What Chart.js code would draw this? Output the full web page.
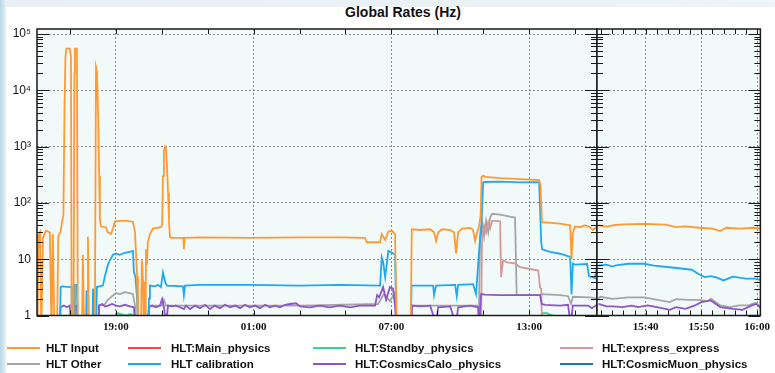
<!DOCTYPE html>
<html>
<head>
<meta charset="utf-8">
<script src="https://cdn.jsdelivr.net/npm/chart.js@4.4.1/dist/chart.umd.min.js"></script>
<style>
  html, body { margin: 0; padding: 0; }
  body {
    width: 775px; height: 373px; overflow: hidden;
    background: linear-gradient(to right, #b9d5e4 0px, #e6f0f6 6px, #eef4f7 100%);
    font-family: "Liberation Sans", Arial, sans-serif;
  }
  #sheet { position: absolute; left: 6px; top: 7px; right: 0; bottom: 0; background: #fff; }
  #title {
    position: absolute; left: 37px; width: 732px; top: 3px; height: 18px; line-height: 18px;
    text-align: center; font-weight: bold; font-size: 14px; color: #111;
  }
  canvas { position: absolute; top: 0; }
  #cLeft { left: 0; }
  #cRight { left: 594px; }
  .lg { position: absolute; height: 16px; line-height: 16px; font-weight: bold; font-size: 11.5px; color: #111; white-space: nowrap; }
  .lg i { position: absolute; left: 0; top: 7px; width: 33px; height: 2px; }
  .lg span { position: absolute; top: 0; }
</style>
</head>
<body>
<div id="sheet"></div>
<div id="title">Global Rates (Hz)</div>
<canvas id="cLeft" width="600" height="373"></canvas>
<canvas id="cRight" width="181" height="373"></canvas>
<div id="legend"></div>

<script>
/* ---------- left panel: hours since 00:00 of the first day ---------- */
const inputT = [15.58, 15.62, 15.69, 15.75, 15.82, 15.95, 16.12, 16.19, 16.25, 16.32, 16.43, 16.49, 16.58, 16.65, 16.71, 16.76, 16.80, 16.84, 16.99, 17.04, 17.07, 17.15, 17.19, 17.21, 17.30, 17.34, 17.52, 17.56, 17.61, 17.74, 17.78, 17.82, 18.08, 18.13, 18.17, 18.23, 18.27, 18.30, 18.35, 18.56, 18.65, 18.78, 18.87, 18.96, 19.17, 19.52, 19.74, 19.83, 19.92, 19.96, 20.09, 20.13, 20.18, 20.22, 20.29, 20.31, 20.35, 20.39, 20.48, 20.61, 20.96, 21.01, 21.05, 21.09, 21.14, 21.18, 21.22, 21.27, 21.31, 21.35, 21.40, 21.94, 21.96, 21.99, 22.66, 24.84, 27.02, 28.76, 29.85, 29.93, 30.51, 30.58, 30.73, 30.87, 31.02, 31.16, 31.24, 31.84, 31.89, 32.25, 32.69, 32.86, 32.95, 33.04, 33.21, 33.56, 33.73, 33.82, 33.91, 34.08, 34.43, 34.56, 34.65, 34.74, 34.82, 34.89, 34.93, 35.00, 35.08, 35.74, 36.61, 37.44, 37.50, 37.56, 37.70, 38.35, 38.79, 38.85, 38.91, 39.00, 39.22, 39.44, 39.65, 39.78, 39.96];
const inputV = [0.5, 26, 30, 0.5, 24, 32, 30, 0.5, 28, 0.5, 0.5, 26, 30, 45, 60, 5000, 40000, 55000, 55000, 40000, 0.5, 0.5, 20000, 55000, 55000, 0.5, 0.5, 12, 0.5, 0.5, 25, 0.5, 0.5, 26000, 22000, 3000, 300, 50, 38, 37, 30, 28, 35, 47, 48, 48, 46, 30, 5, 0.5, 0.5, 10, 4, 0.5, 0.5, 15, 8, 20, 28, 35, 37, 40, 300, 850, 1000, 900, 500, 150, 50, 25, 24, 24, 15, 24, 24.5, 24, 24.5, 24.5, 24, 20, 20, 28, 22, 31, 32, 28, 0.5, 0.5, 34, 33, 34, 30, 21, 30, 34, 33, 30, 12.7, 30, 35, 36, 33, 21, 30, 38, 60, 290, 305, 290, 275, 265, 255, 200, 45, 45, 43, 40, 10, 30, 38, 37, 40, 37, 33, 38];

const calibT = [16.56, 16.59, 16.65, 16.99, 17.07, 17.08, 17.19, 17.21, 17.30, 17.34, 17.69, 17.72, 17.78, 17.98, 18.00, 18.08, 18.13, 18.17, 18.43, 18.52, 18.65, 18.74, 18.87, 19.00, 19.17, 19.39, 19.61, 19.74, 19.78, 19.85, 19.92, 19.96, 20.39, 20.44, 20.48, 20.70, 20.83, 20.96, 21.05, 21.14, 21.22, 21.92, 21.96, 22.01, 22.66, 24.84, 27.02, 28.76, 30.51, 30.58, 30.64, 30.73, 30.87, 31.03, 31.16, 31.23, 31.84, 31.88, 32.82, 32.86, 32.95, 33.78, 33.85, 33.91, 34.56, 34.69, 34.78, 34.87, 34.91, 35.00, 35.08, 35.74, 36.61, 37.44, 37.53, 37.57, 37.92, 38.35, 38.79, 38.85, 38.91, 39.00, 39.53, 39.61, 39.87, 39.96];
const calibV = [0.5, 3.2, 3.3, 3.2, 3.3, 0.5, 0.5, 3.5, 3.5, 0.5, 0.5, 2.8, 0.5, 0.5, 3, 0.5, 0.5, 3.2, 3.4, 5, 8, 9.5, 12, 12.6, 12, 13, 13.5, 14, 6, 4.8, 2, 0.5, 0.5, 2, 3.4, 3.3, 3.5, 3.2, 5.8, 4, 3.4, 3.3, 2.3, 3.4, 3.5, 3.5, 3.4, 3.5, 3.4, 10.8, 9, 4.8, 14, 13, 12, 0.5, 0.5, 3.4, 3.4, 2.3, 3.4, 3.5, 2.2, 3.5, 3.6, 2.4, 8, 25, 30, 230, 235, 238, 232, 234, 20, 15, 13.5, 12.5, 11, 2.4, 8.4, 8, 8.2, 5, 4.6, 7.7];

const otherT = [18.22, 18.26, 18.52, 18.65, 18.83, 19.00, 19.17, 19.39, 19.61, 19.74, 19.83, 19.87, 20.39, 20.44, 21.01, 21.09, 21.18, 27.02, 30.42, 30.68, 30.94, 31.16, 31.23, 31.86, 31.90, 34.82, 34.87, 34.95, 35.04, 35.13, 35.22, 35.30, 35.39, 35.74, 36.17, 36.39, 36.46, 37.48, 37.56, 38.35, 38.70, 38.83, 38.91, 39.65, 39.96];
const otherV = [0.5, 1.5, 1.6, 1.9, 2.2, 2.5, 2.4, 2.6, 2.5, 2.4, 1.5, 0.5, 0.5, 1.5, 1.5, 1.9, 1.5, 1.5, 1.6, 2.4, 1.8, 2.6, 0.5, 0.5, 1.5, 1.5, 30, 45, 25, 48, 30, 55, 64, 62, 57, 55, 2.3, 2.3, 2.4, 2.3, 2.2, 1.6, 2.15, 2.1, 2.0];

const cosmicsT = [16.56, 16.58, 16.73, 16.86, 16.99, 17.06, 17.17, 17.21, 17.30, 17.34, 18.22, 18.26, 18.39, 18.52, 18.65, 18.83, 19.00, 19.17, 19.39, 19.61, 19.78, 19.87, 20.39, 20.44, 20.57, 20.74, 20.92, 21.01, 21.09, 21.18, 21.27, 21.44, 21.61, 21.79, 21.96, 22.05, 22.23, 22.45, 22.66, 22.88, 23.10, 23.30, 23.53, 23.75, 23.97, 24.20, 24.41, 24.62, 24.84, 25.06, 25.28, 25.50, 25.71, 25.93, 26.15, 26.37, 26.58, 26.85, 27.02, 27.45, 27.89, 28.30, 28.76, 29.20, 29.64, 30.29, 30.38, 30.47, 30.64, 30.77, 30.94, 31.07, 31.16, 31.23, 31.86, 31.90, 32.25, 32.69, 32.95, 33.04, 33.56, 33.82, 33.91, 34.43, 34.78, 34.82, 34.91, 35.08, 35.74, 36.61, 37.48, 37.55, 37.70, 38.35, 38.70, 38.81, 38.91, 39.22, 39.57, 39.74, 39.96];
const cosmicsV = [0.5, 1.4, 1.5, 1.4, 1.5, 0.5, 0.5, 1.4, 1.5, 0.5, 0.5, 1.5, 1.6, 1.45, 1.5, 1.6, 1.5, 1.45, 1.55, 1.45, 1.4, 0.5, 0.5, 1.4, 1.5, 1.4, 1.5, 1.95, 1.4, 0.7, 1.5, 1.45, 1.5, 1.4, 1.3, 1.5, 1.3, 1.5, 1.35, 1.55, 1.3, 1.5, 1.35, 1.55, 1.4, 1.5, 1.35, 1.55, 1.4, 1.5, 1.35, 1.55, 1.4, 1.5, 1.4, 1.55, 1.6, 1.65, 1.45, 1.4, 1.5, 1.4, 1.5, 1.4, 1.5, 1.5, 2.3, 2.1, 3.2, 1.9, 3.2, 3.0, 1.5, 0.5, 0.5, 1.5, 1.45, 1.5, 0.7, 1.4, 1.45, 0.7, 1.4, 1.5, 1.4, 0.6, 2.4, 2.35, 2.3, 2.3, 2.3, 1.6, 1.55, 1.5, 1.55, 0.7, 1.5, 1.5, 1.5, 1.35, 1.55];

const expressT = [34.91, 34.95, 35.04, 35.13, 35.22, 35.30, 35.39, 35.56, 35.74, 35.78, 35.87, 36.04, 36.39, 36.61, 37.05, 37.40, 37.48, 37.53, 37.57];
const expressV = [0.5, 25, 40, 30, 45, 35, 48, 48, 47, 4.8, 9.5, 8.8, 8.4, 7.2, 6.7, 6.3, 3.1, 3.0, 0.5];

const standbyT = [19.04, 19.09, 19.26, 19.44, 19.61, 19.78, 19.83, 34.82, 34.87, 34.91, 37.53, 37.57, 37.79, 37.88, 38.05, 38.09];
const standbyV = [0.5, 1.1, 1.05, 1.0, 1.06, 1.0, 0.5, 0.5, 2.3, 0.5, 0.5, 1.1, 1.1, 1.05, 1.0, 0.5];

/* ---------- right panel: minutes after 15:00 of the second day ---------- */
const zInputT = [31.5, 33, 34.5, 36, 39.8, 43.5, 45.5, 47, 49.6, 52, 53.4, 54.5, 57, 59.3, 61];
const zInputV = [40, 38, 40.5, 41.5, 42.5, 41, 37.2, 38.4, 36.2, 34.9, 31.6, 36.2, 34.9, 36.2, 34.9];
const zCalibT = [31.54, 32.96, 34.09, 34.66, 36.93, 39.77, 41.48, 44.3, 47.15, 48.29, 49.43, 50.56, 51.7, 52.83, 53.97, 55.67, 57.94, 59.65, 61.07];
const zCalibV = [7.7, 8, 7.4, 7.8, 8.3, 8.3, 7.7, 7.2, 6.7, 6.5, 5.5, 4.8, 5, 4.7, 4.2, 4.9, 4.5, 4.5, 4.2];
const zOtherT = [31.54, 31.82, 34.09, 36.93, 39.77, 42.61, 44.32, 45.45, 47.72, 49.43, 51.13, 51.7, 53.4, 55.11, 56.81, 58.51, 59.65, 61.07];
const zOtherV = [2.0, 2.15, 1.98, 2.1, 2.1, 1.85, 1.73, 1.95, 1.9, 1.9, 1.8, 2.0, 1.51, 1.41, 1.51, 1.51, 1.67, 1.31];
const zCosmicsT = [31.54, 32.96, 34.09, 35.8, 37.5, 38.64, 40.34, 42.04, 44.32, 45.45, 47.15, 48.86, 49.99, 51.7, 53.4, 55.67, 57.38, 59.08, 59.93, 61.07];
const zCosmicsV = [1.61, 1.45, 1.45, 1.41, 1.5, 1.41, 1.51, 1.41, 1.26, 1.41, 1.31, 1.51, 1.73, 1.85, 1.41, 1.31, 1.26, 1.51, 1.61, 1.22];

/* ---------- axes ---------- */
const decades = [1, 10, 100, 1000, 10000, 100000];
const leftLabelHours = [19, 25, 31, 37];
const rightLabelMinutes = [40, 50, 60];

const seriesNames = ["HLT Input", "HLT:Main_physics", "HLT:Standby_physics", "HLT:express_express",
                     "HLT Other", "HLT calibration", "HLT:CosmicsCalo_physics", "HLT:CosmicMuon_physics"];
const seriesColors = ["#ff9a33", "#f04848", "#3fd08f", "#d49a9a", "#a5a5a5", "#1fa9ef", "#8c56c8", "#1a7f8f"];
// drawing order: lower is on top
const seriesOrder = [0, 6, 5, 3, 4, 1, 2, 7];

const yMax = 1.227e5;
const plotBg = "#f2f9f9";
const gridColor = "#8c8c8c";
const sup = { 2: "\u00b2", 3: "\u00b3", 4: "\u2074", 5: "\u2075" };

const panelFrame = {
  id: "panelFrame",
  beforeDraw(chart) {
    const { ctx, chartArea: a } = chart;
    ctx.save();
    ctx.fillStyle = plotBg;
    ctx.fillRect(a.left, a.top, a.width, a.height);
    ctx.restore();
  },
  afterDraw(chart, args, opts) {
    const { ctx, chartArea: a, scales: { x, y } } = chart;
    ctx.save();
    ctx.strokeStyle = "#1a1a1a";
    ctx.lineWidth = 1;
    ctx.beginPath();
    for (const d of decades) {
      for (let k = 1; k <= 9; k++) {
        const v = k * d;
        if (v > y.max) continue;
        const py = Math.round(y.getPixelForValue(v)) + 0.5;
        const len = k === 1 ? 12 : 6;
        ctx.moveTo(a.left, py); ctx.lineTo(a.left + len, py);
        ctx.moveTo(a.right, py); ctx.lineTo(a.right - len, py);
      }
    }
    for (const v of opts.minorX) {
      const px = Math.round(x.getPixelForValue(v)) + 0.5;
      ctx.moveTo(px, a.bottom); ctx.lineTo(px, a.bottom - 5);
      ctx.moveTo(px, a.top); ctx.lineTo(px, a.top + 5);
    }
    ctx.stroke();
    ctx.lineWidth = 1.5;
    ctx.strokeRect(a.left, a.top, a.width, a.height);
    ctx.restore();
  }
};

function toPoints(t, v) {
  return t.map((x, i) => ({ x: x, y: v[i] }));
}

function buildPanel(id, series, xMin, xMax, labelTicks, minorTicks, fmt, padding, showY) {
  return new Chart(document.getElementById(id), {
    type: "line",
    data: {
      datasets: series.map((s) => ({
        label: seriesNames[s.idx],
        data: toPoints(s.t, s.v),
        borderColor: seriesColors[s.idx],
        borderWidth: 1.8,
        pointRadius: 0,
        tension: 0,
        fill: false,
        order: seriesOrder[s.idx],
      })),
    },
    options: {
      responsive: false,
      animation: false,
      events: [],
      layout: { padding: padding, autoPadding: false },
      plugins: {
        legend: { display: false },
        tooltip: { enabled: false },
        panelFrame: { minorX: minorTicks },
      },
      scales: {
        x: {
          type: "linear",
          min: xMin,
          max: xMax,
          afterBuildTicks: (s) => { s.ticks = labelTicks.map((v) => ({ value: v })); },
          afterFit: (s) => { s.height = 20; },
          ticks: {
            callback: fmt,
            autoSkip: false,
            maxRotation: 0,
            padding: 5,
            color: "#111",
            font: { family: "'Liberation Serif', 'Times New Roman', serif", weight: "bold", size: 11 },
          },
          grid: { color: gridColor, lineWidth: 1, drawTicks: false },
          border: { display: false, dash: [2, 2] },
        },
        y: {
          type: "logarithmic",
          min: 1,
          max: yMax,
          afterBuildTicks: (s) => { s.ticks = decades.map((v) => ({ value: v })); },
          afterFit: (s) => { s.width = showY ? 37 : 0; },
          ticks: {
            display: showY,
            padding: 6,
            color: "#111",
            font: { family: "'Liberation Sans', Arial, sans-serif", size: 12 },
            callback: (v) => {
              const e = Math.round(Math.log10(v));
              return e === 0 ? "1" : e === 1 ? "10" : "10" + sup[e];
            },
          },
          grid: { color: gridColor, lineWidth: 1, drawTicks: false },
          border: { display: false, dash: [2, 2] },
        },
      },
    },
    plugins: [panelFrame],
  });
}

const leftMinor = [];
for (let h = 17; h <= 39; h += 2) leftMinor.push(h);
const rightMinor = [];
for (let m = 32; m <= 60; m += 2) rightMinor.push(m);

buildPanel("cLeft", [
  { idx: 0, t: inputT, v: inputV },
  { idx: 1, t: [], v: [] },
  { idx: 2, t: standbyT, v: standbyV },
  { idx: 3, t: expressT, v: expressV },
  { idx: 4, t: otherT, v: otherV },
  { idx: 5, t: calibT, v: calibV },
  { idx: 6, t: cosmicsT, v: cosmicsV },
  { idx: 7, t: [], v: [] },
], 15.56, 39.96, leftLabelHours, leftMinor,
  (v) => String(v % 24).padStart(2, "0") + ":00",
  { left: 0, right: 3, top: 29, bottom: 37.5 }, true);

buildPanel("cRight", [
  { idx: 0, t: zInputT, v: zInputV },
  { idx: 4, t: zOtherT, v: zOtherV },
  { idx: 5, t: zCalibT, v: zCalibV },
  { idx: 6, t: zCosmicsT, v: zCosmicsV },
], 31.26, 60.6, rightLabelMinutes, rightMinor,
  (v) => (15 + Math.floor(v / 60)) + ":" + String(v % 60).padStart(2, "0"),
  { left: 3, right: 6, top: 29, bottom: 37.5 }, false);

/* ---------- legend ---------- */
const legendCols = [[7, 46], [128, 171], [313, 355], [560, 602]];
const legendRows = [340, 356];
const legend = document.getElementById("legend");
seriesNames.forEach((name, i) => {
  const col = legendCols[i % 4];
  const item = document.createElement("div");
  item.className = "lg";
  item.style.left = col[0] + "px";
  item.style.top = legendRows[Math.floor(i / 4)] + "px";
  item.innerHTML = '<i style="background:' + seriesColors[i] + '"></i><span style="left:' + (col[1] - col[0]) + 'px">' + name + "</span>";
  legend.appendChild(item);
});
</script>
</body>
</html>
